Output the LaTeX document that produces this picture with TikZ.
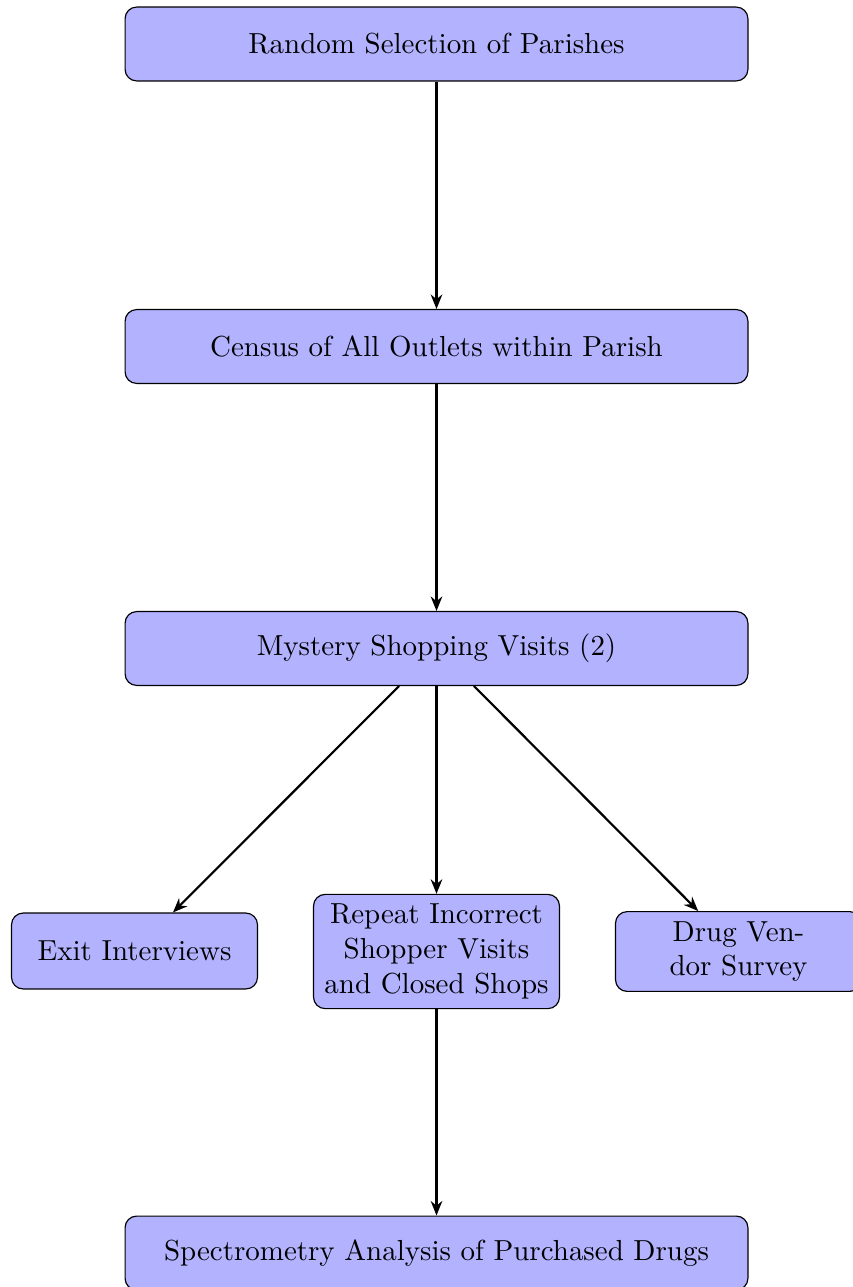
\documentclass[tikz,border=0pt]{standalone}
\usetikzlibrary{arrows.meta}
\tikzset{
  box/.style={draw, fill=blue!30, rounded corners=4pt, align=center, line width=0.4pt, inner sep=3.33pt},
  wide/.style={box, minimum width=215pt, minimum height=25.5pt},
  small/.style={box, minimum width=84.9pt, minimum height=26.2pt},
  arr/.style={-{Stealth[length=5pt,width=4pt]}, line width=0.75pt}
}
\begin{document}
\begin{tikzpicture}[x=0.3452pt, y=-0.3452pt]
\useasboundingbox (0,0) rectangle (852,1287);
\node[wide] (a) at (436.5,44) {Random Selection of Parishes};
\node[wide] (b) at (436.5,346.5) {Census of All Outlets within Parish};
\node[wide] (c) at (436.5,648.5) {Mystery Shopping Visits (2)};
\node[small] (d) at (134.5,951) {Exit Interviews};
\node[small] (e) at (436.5,951.5) {Repeat Incorrect\\Shopper Visits\\and Closed Shops};
\node[small] (f) at (738.5,951.5) {Drug Ven-\\dor Survey};
\node[wide] (g) at (436.5,1253) {Spectrometry Analysis of Purchased Drugs};
\draw[arr] (a) -- (b);
\draw[arr] (b) -- (c);
\draw[arr] (c) -- (d);
\draw[arr] (c) -- (e);
\draw[arr] (c) -- (f);
\draw[arr] (e) -- (g);
\end{tikzpicture}
\end{document}
